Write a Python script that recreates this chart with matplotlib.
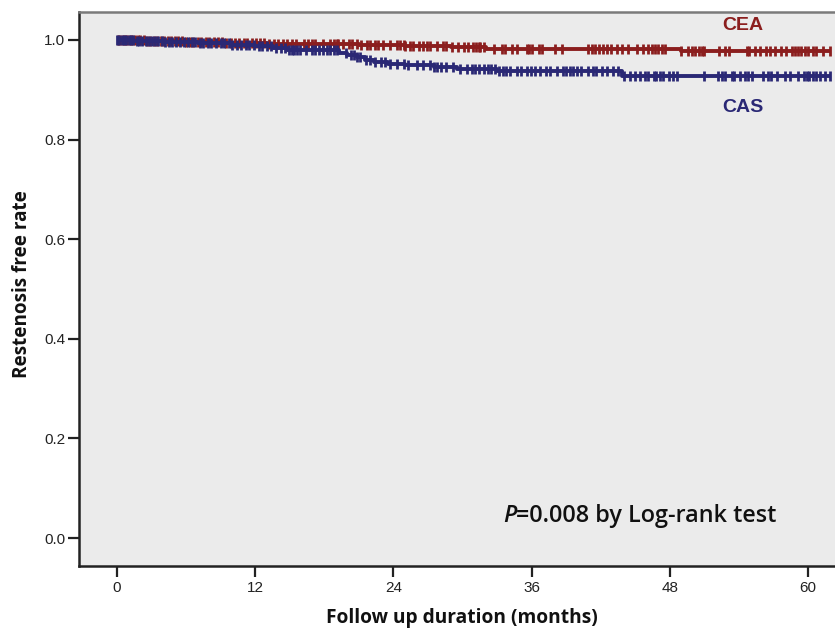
import numpy as np
import matplotlib
matplotlib.use("Agg")
import matplotlib.pyplot as plt

plt.rcParams['font.family'] = ['Liberation Sans', 'DejaVu Sans']

# ---- data ----
cea_times = [0, 2.5, 6, 9.5, 13, 21, 25, 29, 32, 49]
cea_surv = [1.0, 0.998, 0.996, 0.994, 0.992, 0.990, 0.988, 0.9855, 0.982, 0.977]
cea_censor = [0.1, 0.3, 0.5, 0.7, 0.9, 1.1, 1.3, 1.6, 1.8, 2.0, 2.3, 2.6, 2.9, 3.2, 3.5,
              3.8, 4.1, 4.4, 4.7, 5.0, 5.3, 5.6, 6.0, 6.3, 6.6, 7.0, 7.3, 7.7, 8.0, 8.4,
              8.8, 9.1, 9.5, 9.9, 10.2, 10.6, 11.0, 11.3, 11.7, 12.1, 12.4, 12.8, 13.2,
              13.6, 14.0, 14.4, 14.8,
              15.2, 15.5, 16.2, 16.6, 16.9, 17.2, 17.9, 18.5, 18.8, 19.1, 19.2, 19.6,
              20.1, 20.4, 20.8, 21.2, 21.7, 22.0, 22.4, 22.7, 23.1, 23.7, 24.3, 24.6,
              24.9, 25.0, 25.4, 25.7, 26.2, 26.6, 26.9, 27.2, 27.8, 28.3, 28.6, 29.1,
              29.6, 30.1, 30.5,
              30.9, 31.2, 31.4, 31.5, 31.9, 32.7, 33.4, 33.7, 34.3, 34.7, 35.6, 35.8,
              36.0, 36.6, 36.9, 38.0, 38.6, 40.9, 41.2, 41.5, 41.8, 42.2, 42.5, 42.9,
              43.4, 43.8, 44.4, 45.1, 45.7, 46.1,
              46.4, 46.7, 47.0, 47.3, 47.6, 49.0, 49.6, 49.9, 50.2, 50.5, 50.8, 51.0,
              52.3, 52.8, 53.1, 54.7, 54.9, 55.4, 55.8, 56.3, 56.7, 57.1, 57.6, 58.1,
              58.6, 58.9, 59.1, 59.4, 59.7, 60.0, 60.4, 60.7, 61.3, 61.9]

cas_times = [0, 1.5, 4, 7, 10, 12, 13.5, 14.8, 19.3, 20, 20.8, 21.5, 22.3, 23.5, 25,
             27.5, 29.5, 33, 43.8]
cas_surv = [1.0, 0.998, 0.996, 0.994, 0.990, 0.987, 0.983, 0.979, 0.974, 0.970, 0.965,
            0.960, 0.956, 0.952, 0.949, 0.946, 0.942, 0.937, 0.927]
cas_censor = [0.0, 0.2, 0.4, 0.6, 0.8, 1.0, 1.2, 1.4, 1.7, 1.9, 2.2, 2.5, 2.8, 3.0, 3.3,
              3.6, 3.9, 4.2, 4.5, 4.8, 5.1, 5.5, 5.8, 6.2, 6.5, 6.8, 7.2, 7.5, 7.9, 8.2,
              8.6, 9.0, 9.3, 9.7, 10.0, 10.4, 10.8, 11.2, 11.5, 11.9, 12.3, 12.6, 13.0,
              13.4, 13.8, 14.2, 14.6, 14.9,
              15.2, 15.4, 15.6, 15.9, 16.4, 16.9, 17.2, 17.5, 17.9, 18.2, 18.5, 18.8,
              19.1, 19.9, 20.3, 20.6, 20.8, 21.1, 21.6, 22.0, 22.4, 22.9, 23.3, 23.7,
              24.3, 24.9, 25.3, 26.0, 26.6, 27.2, 27.5, 27.8, 28.1, 28.6, 29.2, 29.8,
              30.4,
              30.8, 31.1, 31.4, 31.9, 32.2, 32.5, 32.8, 33.2, 33.5, 33.8, 34.1, 34.7,
              35.1, 35.6, 35.9, 36.3, 36.7, 37.2, 37.6, 38.2, 38.7, 39.0, 39.3, 39.6,
              39.9, 40.3, 40.9, 41.3, 41.6, 42.1, 42.5, 43.1, 43.5, 44.0, 44.5, 45.0,
              45.4, 45.8, 46.1,
              46.6, 46.8, 47.1, 47.4, 47.9, 48.3, 48.6, 51.0, 52.2, 52.5, 52.8, 53.4,
              53.6, 54.1, 54.5, 54.8, 55.1, 56.1, 56.5, 56.8, 57.3, 58.0, 58.4, 59.1,
              59.6, 59.9, 60.1, 60.4, 60.7, 61.0, 61.5, 61.9]

x_ticks = [0, 12, 24, 36, 48, 60]
y_ticks = [0.0, 0.2, 0.4, 0.6, 0.8, 1.0]

red = '#8B1E1E'
blue = '#2A2875'
title_font = ['Open Sans', 'Liberation Sans', 'DejaVu Sans']

fig = plt.figure(figsize=(8.35, 6.32), dpi=100)
ax = fig.add_axes([79 / 835, (632 - 566) / 632, 1 - 79 / 835, (566 - 12) / 632])
ax.set_facecolor('#EBEBEB')


def step_at(times, surv, t):
    idx = np.searchsorted(times, t, side='right') - 1
    return np.asarray(surv)[idx]


for times, surv, cens, col in [(cea_times, cea_surv, cea_censor, red),
                               (cas_times, cas_surv, cas_censor, blue)]:
    tt = list(times) + [max(cens)]
    ss = list(surv) + [surv[-1]]
    ax.plot(tt, ss, drawstyle='steps-post', color=col, lw=2.8, solid_capstyle='butt')
    c = np.array(cens)
    ax.plot(c, step_at(np.array(times), surv, c), ls='none', marker='|',
            ms=7, mew=2.0, color=col)

ax.set_xlim(-3.3, 62.33)
ax.set_ylim(-0.0562, 1.0562)
ax.set_xticks(x_ticks)
ax.set_xticklabels([str(v) for v in x_ticks])
ax.set_yticks(y_ticks)
ax.set_yticklabels([f'{v:.1f}' for v in y_ticks])
ax.tick_params(axis='both', direction='out', length=8, width=1.6, color='#222222',
               labelsize=11, labelcolor='#222222')
ax.tick_params(axis='x', pad=3)
ax.tick_params(axis='y', pad=2)
for lab in ax.get_xticklabels():
    lab.set_family(['Liberation Sans Narrow', 'Liberation Sans', 'DejaVu Sans'])
    lab.set_fontsize(11)

for s in ['left', 'bottom']:
    ax.spines[s].set_color('#222222')
    ax.spines[s].set_linewidth(1.8)
ax.spines['top'].set_color('#7A7A7A')
ax.spines['top'].set_linewidth(1.8)
ax.spines['right'].set_visible(False)

ax.set_xlabel('Follow up duration (months)', fontsize=13.8, fontweight='bold',
              color='#111111', family=title_font)
ax.xaxis.set_label_coords(0.507, -(618 - 566) / 554)
ax.xaxis.label.set_va('center')
ax.set_ylabel('Restenosis free rate', fontsize=13.6, fontweight='bold',
              color='#111111', family=title_font)
ax.yaxis.set_label_coords(-(79 - 22) / 756, (566 - 284) / 554)
ax.yaxis.label.set_va('center')

ax.text(54.3, 1.03, 'CEA', color=red, fontsize=14, fontweight='bold',
        ha='center', va='center')
ax.text(54.3, 0.865, 'CAS', color=blue, fontsize=14, fontweight='bold',
        ha='center', va='center')
ax.text(34.65, 0.044, 'P', color='#111111', fontsize=16.8, style='italic',
        fontweight='semibold', family=title_font, ha='right', va='center')
ax.text(34.65, 0.044, '=0.008 by Log-rank test', color='#111111', fontsize=16.8,
        fontweight='semibold', family=title_font, ha='left', va='center')

fig.savefig('out.png', dpi=100)
